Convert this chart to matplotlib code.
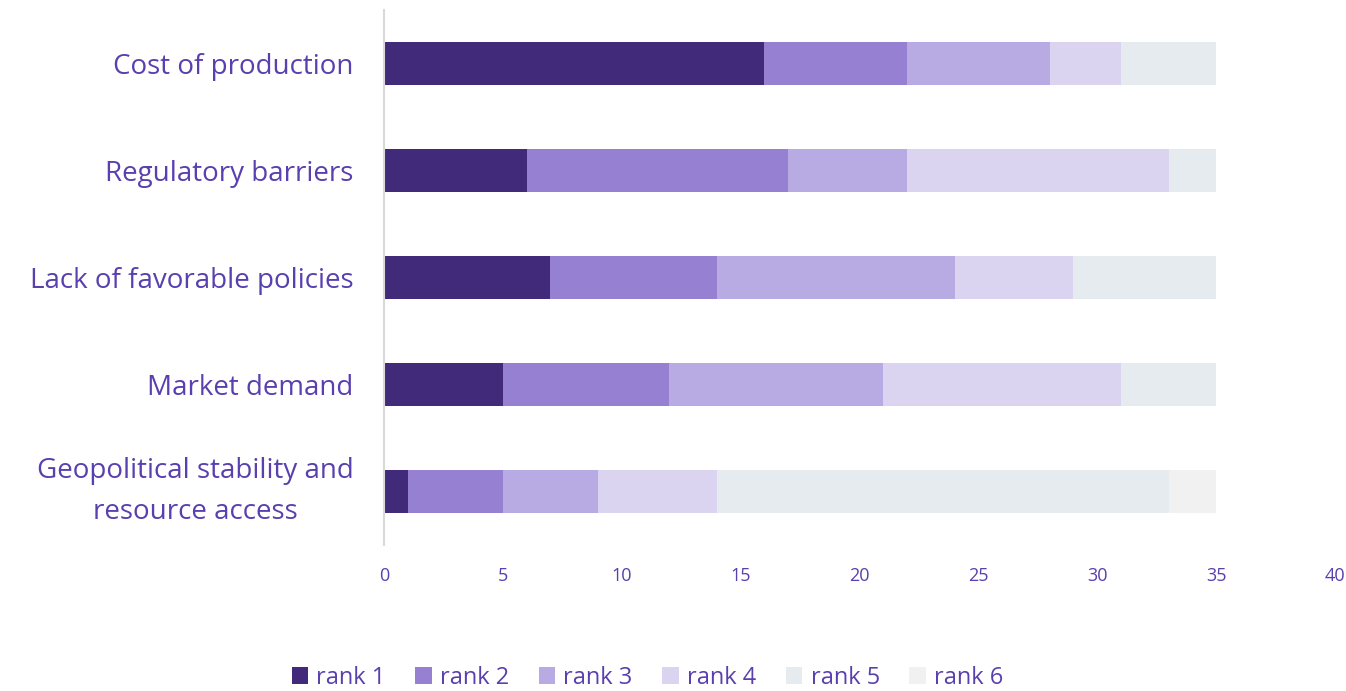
import numpy as np
import matplotlib
matplotlib.use("Agg")
from matplotlib import pyplot as plt
from matplotlib.patches import Patch

categories = ["Cost of production", "Regulatory barriers", "Lack of favorable policies",
              "Market demand", "Geopolitical stability and\nresource access"]
rank_names = ["rank 1", "rank 2", "rank 3", "rank 4", "rank 5", "rank 6"]
rank1 = [16, 6, 7, 5, 1]
rank2 = [6, 11, 7, 7, 4]
rank3 = [6, 5, 10, 9, 4]
rank4 = [3, 11, 5, 10, 5]
rank5 = [4, 2, 6, 4, 19]
rank6 = [0, 0, 0, 0, 2]
xticks = [0, 5, 10, 15, 20, 25, 30, 35, 40]

colors = ["#412a7a", "#9580d1", "#b8aae2", "#dbd4f1", "#e6ebef", "#f1f1f1"]
txt = "#5a3fae"

plt.rcParams['font.family'] = ['Open Sans', 'DejaVu Sans']

fig = plt.figure(figsize=(13.46, 6.91), dpi=100)
ax = fig.add_axes([0.2853, 0.2113, 0.7065, 0.7742])

y = np.arange(len(categories))
left = np.zeros(len(categories))
for vals, c in zip([rank1, rank2, rank3, rank4, rank5, rank6], colors):
    ax.barh(y, vals, left=left, height=0.4, color=c, edgecolor="none")
    left += np.array(vals)

ax.set_ylim(len(categories) - 0.5, -0.5)
ax.set_xlim(0, 40)
ax.set_yticks(y)
ax.set_yticklabels(categories, fontsize=20, color=txt)
ax.set_xticks(xticks)
ax.set_xticklabels([str(t) for t in xticks], fontsize=13, color=txt)
ax.tick_params(axis="y", length=0, pad=22)
ax.tick_params(axis="x", length=0, pad=16)
for lab in ax.get_yticklabels():
    lab.set_horizontalalignment("right")
    lab.set_multialignment("center")
    lab.set_linespacing(1.65)
    if "\n" in lab.get_text():
        lab.set_verticalalignment("center")

for s in ["top", "right", "bottom"]:
    ax.spines[s].set_visible(False)
ax.spines["left"].set_color("#d9d9d9")
ax.spines["left"].set_linewidth(1.5)

handles = [Patch(facecolor=c, edgecolor="none") for c in colors]
leg = fig.legend(handles, rank_names, loc="center", bbox_to_anchor=(0.481, 0.019),
                 ncol=6, frameon=False, fontsize=17, handlelength=0.7, handleheight=0.7,
                 handletextpad=0.35, columnspacing=1.25)
for t in leg.get_texts():
    t.set_color(txt)

fig.savefig("out.png", dpi=100)
